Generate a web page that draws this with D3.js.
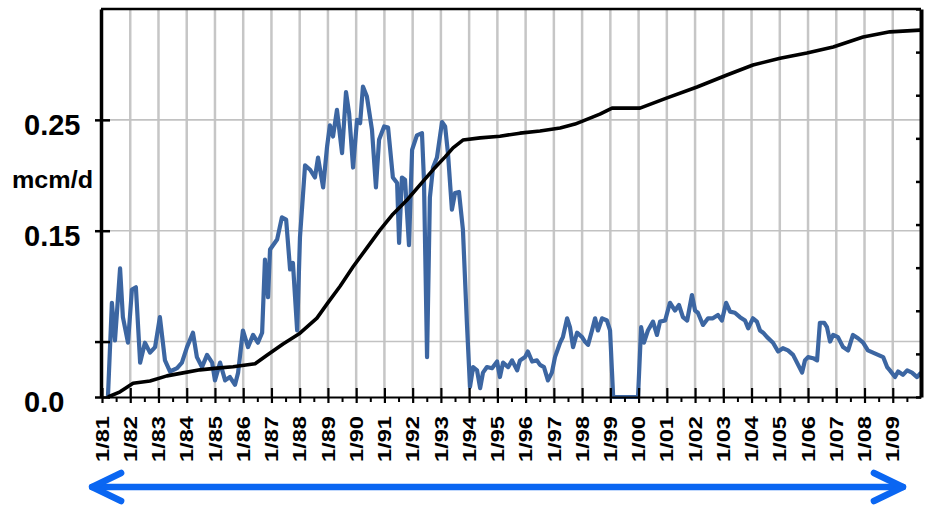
<!DOCTYPE html>
<html>
<head>
<meta charset="utf-8">
<script src="https://cdn.jsdelivr.net/npm/d3@7"></script>
<style>
  html, body { margin: 0; padding: 0; background: #fff; }
  svg { display: block; }
  text { font-family: "Liberation Sans", Arial, Helvetica, sans-serif; font-weight: bold; fill: #000; }
</style>
</head>
<body>
<svg id="chart" width="926" height="506"></svg>
<script>
// ---- Year ticks along the bottom ----
const yearTicks = [1981, 1982, 1983, 1984, 1985, 1986, 1987, 1988, 1989, 1990,
  1991, 1992, 1993, 1994, 1995, 1996, 1997, 1998, 1999, 2000,
  2001, 2002, 2003, 2004, 2005, 2006, 2007, 2008, 2009];
const yearLabels = ["1/81", "1/82", "1/83", "1/84", "1/85", "1/86", "1/87", "1/88", "1/89", "1/90",
  "1/91", "1/92", "1/93", "1/94", "1/95", "1/96", "1/97", "1/98", "1/99", "1/00",
  "1/01", "1/02", "1/03", "1/04", "1/05", "1/06", "1/07", "1/08", "1/09"];

// ---- Left axis (production rate, mcm/d) ----
const rateTicks = [0, 0.05, 0.15, 0.25];
const rateGrid = [0.05, 0.15, 0.25];
const rateLabelValues = [0, 0.15, 0.25];
const rateLabels = ["0.0", "0.15", "0.25"];
const rateUnit = "mcm/d";

// ---- Right axis (cumulative production, unlabelled) ----
const cumTicks = [0, 0.1, 0.2, 0.3, 0.4, 0.5, 0.6, 0.7, 0.8, 0.9];

// ---- Production rate series (decimal year, mcm/d) ----
const rateYears = [1981.21, 1981.35, 1981.46, 1981.64, 1981.74, 1981.92, 1982.06, 1982.20, 1982.35, 1982.52,
  1982.70, 1982.88, 1983.05, 1983.23, 1983.41, 1983.66, 1983.83, 1984.01, 1984.22, 1984.36,
  1984.54, 1984.72, 1984.90, 1985.00, 1985.18, 1985.36, 1985.53, 1985.71, 1985.82, 1985.99,
  1986.17, 1986.35, 1986.52, 1986.67, 1986.77, 1986.88, 1986.95, 1987.20, 1987.37, 1987.52,
  1987.66, 1987.76, 1987.91, 1988.01, 1988.19, 1988.37, 1988.54, 1988.65, 1988.83, 1988.97,
  1989.07, 1989.18, 1989.32, 1989.50, 1989.64, 1989.75, 1989.89, 1990.03, 1990.14, 1990.24,
  1990.38, 1990.56, 1990.70, 1990.81, 1990.99, 1991.13, 1991.30, 1991.45, 1991.52, 1991.62,
  1991.73, 1991.87, 1991.98, 1992.15, 1992.33, 1992.40, 1992.51, 1992.61, 1992.72, 1992.86,
  1993.04, 1993.15, 1993.25, 1993.39, 1993.50, 1993.64, 1993.78, 1993.92, 1994.03, 1994.14,
  1994.28, 1994.39, 1994.49, 1994.63, 1994.81, 1994.99, 1995.09, 1995.20, 1995.38, 1995.52,
  1995.70, 1995.80, 1995.98, 1996.08, 1996.23, 1996.40, 1996.51, 1996.65, 1996.79, 1996.93,
  1997.04, 1997.22, 1997.32, 1997.47, 1997.57, 1997.68, 1997.82, 1998.00, 1998.10, 1998.21,
  1998.35, 1998.46, 1998.56, 1998.71, 1998.88, 1998.99, 1999.10, 1999.98, 2000.09, 2000.19,
  2000.33, 2000.51, 2000.65, 2000.76, 2000.94, 2001.11, 2001.29, 2001.43, 2001.57, 2001.72,
  2001.89, 2002.00, 2002.10, 2002.28, 2002.46, 2002.63, 2002.81, 2002.95, 2003.10, 2003.24,
  2003.41, 2003.59, 2003.77, 2003.88, 2004.05, 2004.19, 2004.30, 2004.41, 2004.55, 2004.76,
  2004.94, 2005.11, 2005.29, 2005.47, 2005.61, 2005.79, 2005.89, 2006.00, 2006.18, 2006.32,
  2006.42, 2006.57, 2006.67, 2006.78, 2006.89, 2007.06, 2007.24, 2007.42, 2007.59, 2007.77,
  2007.95, 2008.12, 2008.30, 2008.48, 2008.66, 2008.80, 2008.90, 2009.08, 2009.19, 2009.36,
  2009.51, 2009.68, 2009.86, 2010.00];
const rateValues = [0.000, 0.085, 0.051, 0.116, 0.072, 0.049, 0.097, 0.099, 0.031, 0.049,
  0.040, 0.045, 0.072, 0.033, 0.023, 0.026, 0.031, 0.045, 0.058, 0.036,
  0.027, 0.038, 0.031, 0.015, 0.031, 0.015, 0.018, 0.011, 0.022, 0.060,
  0.045, 0.056, 0.049, 0.058, 0.124, 0.090, 0.133, 0.142, 0.162, 0.160,
  0.115, 0.121, 0.060, 0.144, 0.209, 0.205, 0.198, 0.216, 0.189, 0.226,
  0.245, 0.235, 0.259, 0.220, 0.275, 0.256, 0.207, 0.250, 0.247, 0.280,
  0.271, 0.241, 0.189, 0.232, 0.244, 0.243, 0.198, 0.193, 0.139, 0.198,
  0.196, 0.137, 0.223, 0.236, 0.238, 0.196, 0.036, 0.180, 0.207, 0.216,
  0.248, 0.244, 0.220, 0.169, 0.184, 0.185, 0.151, 0.067, 0.009, 0.027,
  0.024, 0.008, 0.022, 0.027, 0.026, 0.032, 0.018, 0.031, 0.027, 0.033,
  0.024, 0.033, 0.036, 0.041, 0.032, 0.033, 0.029, 0.027, 0.015, 0.022,
  0.036, 0.049, 0.054, 0.071, 0.063, 0.045, 0.058, 0.054, 0.050, 0.047,
  0.060, 0.071, 0.060, 0.071, 0.069, 0.060, 0.000, 0.000, 0.063, 0.049,
  0.060, 0.068, 0.056, 0.068, 0.069, 0.085, 0.078, 0.083, 0.072, 0.069,
  0.092, 0.078, 0.076, 0.065, 0.071, 0.071, 0.074, 0.069, 0.085, 0.077,
  0.076, 0.072, 0.069, 0.062, 0.071, 0.068, 0.060, 0.058, 0.054, 0.049,
  0.041, 0.044, 0.042, 0.038, 0.031, 0.022, 0.033, 0.036, 0.035, 0.033,
  0.067, 0.067, 0.063, 0.050, 0.056, 0.054, 0.045, 0.042, 0.056, 0.053,
  0.049, 0.042, 0.040, 0.038, 0.036, 0.027, 0.024, 0.018, 0.023, 0.020,
  0.024, 0.022, 0.018, 0.022];

// ---- Cumulative production series (decimal year, right-axis units) ----
const cumYears = [1981.21, 1981.64, 1982.10, 1982.70, 1983.30, 1983.87, 1984.47, 1985.07, 1985.64, 1986.42,
  1986.84, 1987.41, 1988.01, 1988.61, 1988.97, 1989.43, 1989.89, 1990.38, 1990.84, 1991.30,
  1991.80, 1992.26, 1992.72, 1993.15, 1993.43, 1993.78, 1994.39, 1995.09, 1995.80, 1996.51,
  1997.22, 1997.75, 1998.28, 1998.63, 1999.06, 2000.05, 2001.01, 2002.07, 2003.13, 2004.05,
  2005.01, 2005.96, 2006.89, 2007.95, 2008.90, 2009.97];
const cumValues = [0.000, 0.012, 0.032, 0.037, 0.049, 0.056, 0.063, 0.067, 0.070, 0.077,
  0.097, 0.123, 0.148, 0.183, 0.216, 0.257, 0.302, 0.346, 0.387, 0.424,
  0.457, 0.492, 0.527, 0.557, 0.578, 0.596, 0.601, 0.605, 0.612, 0.617,
  0.624, 0.633, 0.647, 0.656, 0.670, 0.670, 0.694, 0.719, 0.747, 0.770,
  0.786, 0.798, 0.812, 0.835, 0.847, 0.851];

// ---- Layout ----
const plot = { left: 101, right: 921, top: 9, bottom: 397 };

const svg = d3.select("#chart");

const x = d3.scaleLinear().domain([1981, 2010]).range([102, plot.right]);
const y = d3.scaleLinear().domain([0, 0.35]).range([plot.bottom, plot.top]);
const yCum = d3.scaleLinear().domain([0, 0.9]).range([plot.bottom, plot.top]);

// Grid
const grid = svg.append("g");
grid.selectAll("line.v")
  .data(yearTicks.slice(1))
  .join("line")
  .attr("x1", d => x(d)).attr("x2", d => x(d))
  .attr("y1", plot.top).attr("y2", plot.bottom)
  .attr("stroke", "#c6c6c6").attr("stroke-width", 2.5);
grid.selectAll("line.h")
  .data(rateGrid)
  .join("line")
  .attr("x1", plot.left).attr("x2", plot.right)
  .attr("y1", d => y(d)).attr("y2", d => y(d))
  .attr("stroke", "#c2c2c2").attr("stroke-width", 1.6);

// Series
const rateLine = d3.line().x((d, i) => x(rateYears[i])).y(d => y(d));
svg.append("path")
  .attr("d", rateLine(rateValues))
  .attr("fill", "none")
  .attr("stroke", "#3c66a2")
  .attr("stroke-width", 4.2)
  .attr("stroke-linejoin", "round");

const cumLine = d3.line().x((d, i) => x(cumYears[i])).y(d => yCum(d));
svg.append("path")
  .attr("d", cumLine(cumValues))
  .attr("fill", "none")
  .attr("stroke", "#000")
  .attr("stroke-width", 3.6)
  .attr("stroke-linejoin", "round");

// Top frame
svg.append("line")
  .attr("x1", plot.left).attr("x2", plot.right)
  .attr("y1", plot.top).attr("y2", plot.top)
  .attr("stroke", "#000").attr("stroke-width", 2.5);

// Bottom axis: major ticks (years) and minor ticks (half years)
const xMajor = svg.append("g")
  .attr("transform", `translate(0,${plot.bottom})`)
  .call(d3.axisBottom(x).tickValues(yearTicks).tickSize(6).tickSizeOuter(0).tickFormat(""));
xMajor.select(".domain").attr("stroke", "#000").attr("stroke-width", 2.2);
xMajor.selectAll(".tick line").attr("y1", -9).attr("stroke-width", 2.2);

const xMinor = svg.append("g")
  .attr("transform", `translate(0,${plot.bottom})`)
  .call(d3.axisBottom(x).tickValues(yearTicks.map(d => d + 0.5)).tickSize(5).tickSizeOuter(0).tickFormat(""));
xMinor.select(".domain").remove();
xMinor.selectAll(".tick line").attr("stroke-width", 2);

// Rotated year labels
svg.append("g").selectAll("text")
  .data(yearTicks)
  .join("text")
  .attr("transform", d => `translate(${x(d)},416) rotate(-90)`)
  .attr("text-anchor", "end")
  .attr("dy", "0.36em")
  .attr("font-size", 18.5)
  .attr("textLength", 46)
  .attr("lengthAdjust", "spacingAndGlyphs")
  .text((d, i) => yearLabels[i]);

// Left axis
const yAxis = svg.append("g")
  .attr("transform", `translate(${plot.left},0)`)
  .call(d3.axisLeft(y).tickValues(rateTicks).tickSize(6).tickSizeOuter(0).tickFormat(""));
yAxis.select(".domain").attr("stroke", "#000").attr("stroke-width", 3.5);
yAxis.selectAll(".tick line").attr("x1", 9).attr("stroke-width", 2.5);

svg.append("g").selectAll("text")
  .data(rateLabelValues)
  .join("text")
  .attr("x", 24)
  .attr("y", d => y(d) + 5)
  .attr("dy", "0.36em")
  .attr("font-size", 29)
  .text((d, i) => rateLabels[i]);

svg.append("text")
  .attr("x", 12).attr("y", 188)
  .attr("font-size", 24)
  .attr("textLength", 81)
  .attr("lengthAdjust", "spacingAndGlyphs")
  .text(rateUnit);

// Right axis (inward ticks)
const yRight = svg.append("g")
  .attr("transform", `translate(${plot.right},0)`)
  .call(d3.axisRight(yCum).tickValues(cumTicks).tickSize(-5).tickSizeOuter(0).tickFormat(""));
yRight.select(".domain").attr("stroke", "#000").attr("stroke-width", 4);
yRight.selectAll(".tick line").attr("stroke-width", 2.5);

// Double-headed time arrow under the axis
const arrowY = 487;
const ax0 = x(1980.65), ax1 = x(2009.36);
const arrow = svg.append("g")
  .attr("stroke", "#0a66f2")
  .attr("stroke-width", 6.5)
  .attr("stroke-linecap", "round")
  .attr("stroke-linejoin", "round")
  .attr("fill", "none");
arrow.append("line").attr("x1", ax0).attr("x2", ax1).attr("y1", arrowY).attr("y2", arrowY);
arrow.append("polyline").attr("points", `${ax0 + 29},${arrowY - 14} ${ax0},${arrowY} ${ax0 + 29},${arrowY + 14}`);
arrow.append("polyline").attr("points", `${ax1 - 29},${arrowY - 14} ${ax1},${arrowY} ${ax1 - 29},${arrowY + 14}`);
</script>
</body>
</html>
